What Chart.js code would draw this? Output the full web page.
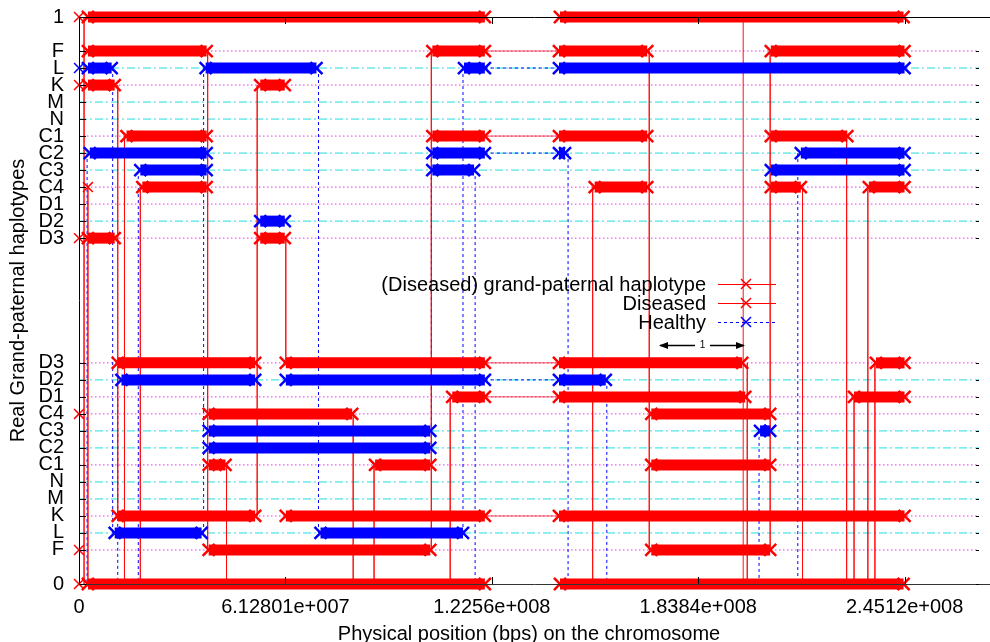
<!DOCTYPE html>
<html><head><meta charset="utf-8">
<script src="https://cdn.jsdelivr.net/npm/chart.js@4"></script>
<style>html,body{margin:0;padding:0;background:#fff;}#wrap{width:990px;height:642px;}</style>
</head><body><div id="wrap"><canvas id="c" width="990" height="642"></canvas></div>
<script>
// ---------------- DATA ----------------
const X_TICKS = [0, 61280100, 122560000, 183840000, 245120000];
const X_TICK_LABELS = ['0', '6.12801e+007', '1.2256e+008', '1.8384e+008', '2.4512e+008'];
const X_MAX = 267.2e6;

const HAPLOTYPES = ['F', 'L', 'K', 'M', 'N', 'C1', 'C2', 'C3', 'C4', 'D1', 'D2', 'D3'];
const LOWER_LEVELS = [0.06, 0.09, 0.12, 0.15, 0.18, 0.21, 0.24, 0.27, 0.30, 0.33, 0.36, 0.39];
const UPPER_LEVELS = [0.94, 0.91, 0.88, 0.85, 0.82, 0.79, 0.76, 0.73, 0.70, 0.67, 0.64, 0.61];

// segments in Mb: [level, start, end]
const RED_BARS = [
  [1, 2.65, 120.5], [1, 142.8, 244.8],
  [0.94, 2.65, 37.9], [0.94, 104.9, 120.5], [0.94, 142.5, 168.7], [0.94, 205.4, 245.1],
  [0.88, 2.65, 10.6], [0.88, 53.8, 61.1],
  [0.79, 14.1, 37.9], [0.79, 104.9, 120.5], [0.79, 142.5, 168.7], [0.79, 205.4, 228.1],
  [0.70, 18.8, 37.9], [0.70, 153.1, 168.7], [0.70, 205.4, 214.3], [0.70, 234.5, 245.1],
  [0.61, 2.65, 10.6], [0.61, 53.8, 61.1],
  [0.39, 11.5, 52.3], [0.39, 61.4, 120.5], [0.39, 142.5, 196.9], [0.39, 236.6, 245.1],
  [0.33, 110.8, 120.5], [0.33, 142.5, 197.8], [0.33, 230.1, 245.1],
  [0.30, 38.5, 81.1], [0.30, 169.9, 205.2],
  [0.21, 38.5, 43.5], [0.21, 87.9, 104.3], [0.21, 169.9, 205.2],
  [0.12, 11.5, 52.3], [0.12, 61.4, 120.5], [0.12, 142.5, 245.1],
  [0.06, 38.5, 104.3], [0.06, 169.9, 205.2],
  [0, 2.65, 120.5], [0, 142.8, 244.8]
];
const BLUE_BARS = [
  [0.91, 2.65, 9.7], [0.91, 37.6, 70.5], [0.91, 114.3, 120.5], [0.91, 142.5, 245.1],
  [0.76, 3.2, 37.9], [0.76, 104.9, 120.5], [0.76, 142.5, 144.3], [0.76, 214.3, 245.1],
  [0.73, 18.2, 37.9], [0.73, 104.9, 117.3], [0.73, 205.4, 245.1],
  [0.64, 53.8, 61.1],
  [0.36, 12.6, 52.3], [0.36, 61.4, 120.5], [0.36, 142.5, 156.4],
  [0.27, 38.5, 104.3], [0.27, 202.2, 205.2],
  [0.24, 38.5, 104.3],
  [0.09, 10.6, 36.4], [0.09, 71.7, 114.0]
];
// isolated points [level, position Mb]
const RED_POINTS = [[1, 0], [0.88, 0], [0.61, 0], [0.70, 2.65], [0.30, 0], [0.06, 0], [0, 0]];
const BLUE_POINTS = [[0.91, 0]];
// thin same-level connections [level, start, end]
const RED_BRIDGES = [[0.94, 120.5, 142.5], [0.79, 120.5, 142.5], [0.39, 120.5, 142.5], [0.33, 120.5, 142.5], [0.12, 120.5, 142.5]];
const BLUE_BRIDGES = [[0.91, 120.5, 142.5], [0.76, 120.5, 142.5], [0.36, 120.5, 142.5]];
// vertical transitions [position Mb, from level, to level]
const RED_LINKS = [
  [1.5, 1, 0], [2.65, 0.70, 0], [11.5, 0.88, 0.12], [13.5, 0.79, 0], [18.2, 0.70, 0],
  [38.2, 0.94, 0.06], [43.8, 0.21, 0], [52.9, 0.88, 0.12], [61.4, 0.61, 0.39], [81.4, 0.30, 0],
  [87.6, 0.21, 0], [104.6, 0.94, 0.06], [110.2, 0.33, 0], [152.5, 0.70, 0], [169.3, 0.94, 0.06],
  [198.4, 0.39, 0], [205.2, 0.94, 0.06], [214.8, 0.70, 0], [227.9, 0.79, 0], [230.1, 0.33, 0],
  [234.2, 0.70, 0], [236.3, 0.39, 0]
];
const FAINT_RED_LINKS = [[197.2, 1, 0]];
const BLUE_LINKS = [
  [2.4, 0.76, 0], [10.0, 0.91, 0.09], [11.5, 0.36, 0], [17.6, 0.73, 0], [37.0, 0.91, 0.09],
  [71.1, 0.91, 0.09], [104.6, 0.76, 0.24], [114.0, 0.91, 0.09], [117.6, 0.73, 0], [145.2, 0.76, 0],
  [156.7, 0.36, 0], [201.9, 0.27, 0], [213.4, 0.76, 0]
];
const LEGEND_LABELS = ['(Diseased) grand-paternal haplotype', 'Diseased', 'Healthy'];

// ---------------- STYLE ----------------
const FONT = "'Liberation Sans', Arial, Helvetica, sans-serif";
const RED = '#ff0000', BLUE = '#0000ff';
const DOTTED_LEVELS = ['F', 'K', 'C1', 'C4', 'D1', 'D3']; // magenta dotted guide lines, others cyan dash-dot
const MB = 1e6;

const Y_TICK_VALUES = [0].concat(LOWER_LEVELS, UPPER_LEVELS.slice().reverse(), [1]);
const Y_TICK_LABELS = ['0'].concat(HAPLOTYPES, HAPLOTYPES.slice().reverse(), ['1']);

const datasets = [];
function line(pts, o) {
  datasets.push(Object.assign({ data: pts, pointRadius: 0, borderWidth: 1, fill: false, tension: 0, clip: false }, o));
}
// guide lines
HAPLOTYPES.forEach((h, i) => {
  const dotted = DOTTED_LEVELS.includes(h);
  [LOWER_LEVELS[i], UPPER_LEVELS[i]].forEach(y => {
    line([{ x: 0, y }, { x: X_MAX, y }], {
      borderColor: dotted ? '#ff22ff' : '#22dede',
      borderDash: dotted ? [1.5, 2.5] : [8, 3, 2, 3],
      order: 5
    });
  });
});
// links
RED_LINKS.forEach(([x, a, b]) => line([{ x: x * MB, y: a }, { x: x * MB, y: b }], { borderColor: 'rgba(255,0,0,0.7)', order: 4 }));
FAINT_RED_LINKS.forEach(([x, a, b]) => line([{ x: x * MB, y: a }, { x: x * MB, y: b }], { borderColor: 'rgba(255,0,0,0.4)', order: 4 }));
BLUE_LINKS.forEach(([x, a, b]) => line([{ x: x * MB, y: a }, { x: x * MB, y: b }], { borderColor: BLUE, borderDash: [3, 3], order: 4 }));
RED_BRIDGES.forEach(([y, a, b]) => line([{ x: a * MB, y }, { x: b * MB, y }], { borderColor: 'rgba(255,0,0,0.7)', order: 4 }));
BLUE_BRIDGES.forEach(([y, a, b]) => line([{ x: a * MB, y }, { x: b * MB, y }], { borderColor: BLUE, borderDash: [3, 3], order: 4 }));
// bars
function bars(list, col, ord) {
  list.forEach(([y, a, b]) => line([{ x: a * MB, y }, { x: b * MB, y }], {
    borderColor: col, borderWidth: 11, borderCapStyle: 'butt',
    pointStyle: 'crossRot', pointRadius: 8.5, pointBorderWidth: 2.5, pointBorderColor: col, pointBackgroundColor: col,
    order: ord
  }));
}
bars(BLUE_BARS, BLUE, 2);
bars(RED_BARS, RED, 1);
function pts(list, col) {
  list.forEach(([y, x]) => line([{ x: x * MB, y }], {
    showLine: false, pointStyle: 'crossRot', pointRadius: 7, pointBorderWidth: 1.5, pointBorderColor: col, order: 1
  }));
}
pts(RED_POINTS, RED);
pts(BLUE_POINTS, BLUE);

// frame, ticks, legend, arrow
const decor = {
  id: 'decor',
  afterDatasetsDraw(chart) {
    const ctx = chart.ctx, a = chart.chartArea, xs = chart.scales.x, ys = chart.scales.y;
    ctx.save();
    ctx.lineWidth = 1;
    ctx.strokeStyle = '#000';
    ctx.beginPath();
    ctx.moveTo(a.left + 0.5, a.top); ctx.lineTo(a.left + 0.5, a.bottom);
    ctx.moveTo(a.left, a.top + 0.5); ctx.lineTo(990, a.top + 0.5);
    ctx.stroke();
    ctx.strokeStyle = '#333';
    ctx.beginPath();
    ctx.moveTo(a.left, a.bottom + 0.5); ctx.lineTo(990, a.bottom + 0.5);
    ctx.stroke();
    // ticks
    ctx.strokeStyle = '#000';
    ctx.beginPath();
    Y_TICK_VALUES.forEach(v => {
      const y = Math.round(ys.getPixelForValue(v)) + 0.5;
      ctx.moveTo(a.left, y); ctx.lineTo(a.left + 7, y);
      ctx.moveTo(a.right - 3, y); ctx.lineTo(a.right, y);
    });
    X_TICKS.forEach(v => {
      const x = Math.round(xs.getPixelForValue(v)) + 0.5;
      ctx.moveTo(x, a.bottom); ctx.lineTo(x, a.bottom - 7);
      ctx.moveTo(x, a.top); ctx.lineTo(x, a.top + 7);
    });
    ctx.stroke();
    ctx.restore();
  },
  afterDraw(chart) {
    const ctx = chart.ctx;
    ctx.save();
    ctx.font = '20px ' + FONT;
    ctx.textAlign = 'right';
    ctx.textBaseline = 'middle';
    ctx.fillStyle = '#000';
    const rows = [284, 303, 322];
    const cols = [RED, RED, BLUE];
    LEGEND_LABELS.forEach((t, i) => {
      const y = rows[i];
      ctx.fillText(t, 706, y + 1);
      ctx.strokeStyle = cols[i];
      ctx.lineWidth = 1;
      ctx.setLineDash(i === 2 ? [3, 3] : []);
      ctx.beginPath(); ctx.moveTo(718, y + 0.5); ctx.lineTo(776, y + 0.5); ctx.stroke();
      ctx.setLineDash([]);
      ctx.lineWidth = 1.5;
      ctx.beginPath();
      ctx.moveTo(741, y - 5); ctx.lineTo(751, y + 5);
      ctx.moveTo(741, y + 5); ctx.lineTo(751, y - 5);
      ctx.stroke();
    });
    // scale arrow
    const ay = 345.5;
    ctx.strokeStyle = '#000'; ctx.fillStyle = '#000'; ctx.lineWidth = 1.5;
    ctx.beginPath(); ctx.moveTo(660, ay); ctx.lineTo(695, ay); ctx.moveTo(710, ay); ctx.lineTo(744, ay); ctx.stroke();
    ctx.beginPath(); ctx.moveTo(659, ay); ctx.lineTo(668, ay - 3.5); ctx.lineTo(668, ay + 3.5); ctx.closePath(); ctx.fill();
    ctx.beginPath(); ctx.moveTo(745, ay); ctx.lineTo(736, ay - 3.5); ctx.lineTo(736, ay + 3.5); ctx.closePath(); ctx.fill();
    ctx.font = '10px ' + FONT; ctx.textAlign = 'center';
    ctx.fillText('1', 702.5, ay);
    ctx.restore();
  }
};

new Chart(document.getElementById('c'), {
  type: 'line',
  data: { datasets },
  options: {
    responsive: false, animation: false, devicePixelRatio: 1, events: [],
    layout: { padding: { top: 17, right: 1, bottom: 0, left: 0 } },
    plugins: { legend: { display: false }, tooltip: { enabled: false } },
    scales: {
      x: {
        type: 'linear', min: 0, max: X_MAX, position: 'bottom',
        grid: { display: false }, border: { display: false },
        afterBuildTicks: s => { s.ticks = X_TICKS.map(v => ({ value: v })); },
        afterFit: s => { s.height = 58; s.paddingLeft = 0; s.paddingRight = 0; },
        ticks: { autoSkip: false, maxRotation: 0, padding: 3, color: '#000', font: { family: FONT, size: 20 },
                 callback: (v, i) => X_TICK_LABELS[i] },
        title: { display: true, text: 'Physical position (bps) on the chromosome', color: '#000',
                 font: { family: FONT, size: 20, lineHeight: 1 }, padding: { top: 0, bottom: -2 } }
      },
      y: {
        type: 'linear', min: 0, max: 1,
        grid: { display: false }, border: { display: false },
        afterBuildTicks: s => { s.ticks = Y_TICK_VALUES.map(v => ({ value: v })); },
        afterFit: s => { s.width = 79; s.paddingTop = 0; s.paddingBottom = 0; },
        ticks: { autoSkip: false, padding: 7, color: '#000', font: { family: FONT, size: 20 },
                 callback: (v, i) => Y_TICK_LABELS[i] },
        title: { display: true, text: 'Real Grand-paternal haplotypes', color: '#000',
                 font: { family: FONT, size: 20, lineHeight: 1 }, padding: { top: 8, bottom: 0 } }
      }
    }
  },
  plugins: [decor]
});
</script></body></html>
